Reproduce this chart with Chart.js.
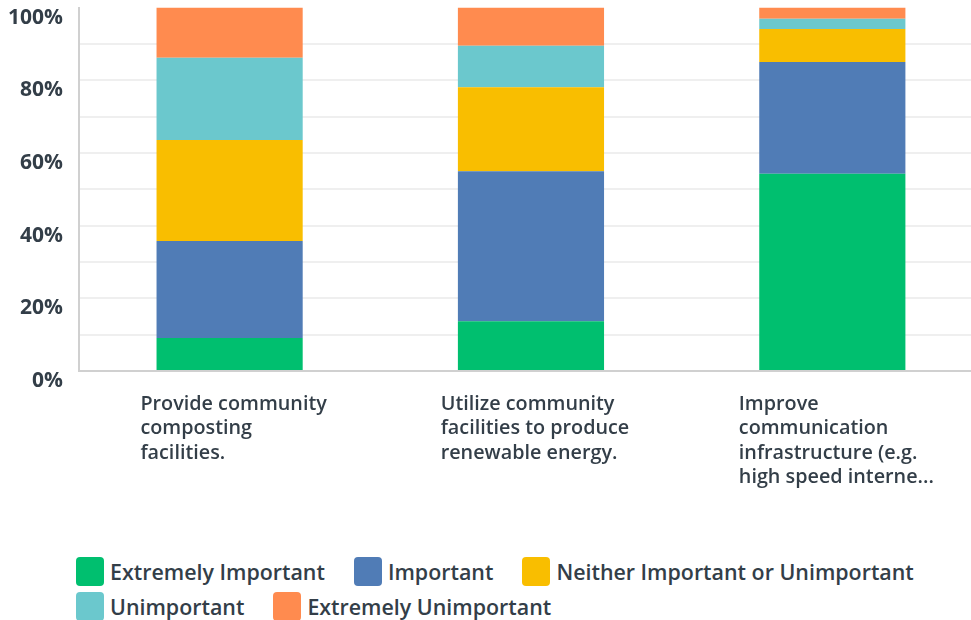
<!DOCTYPE html>
<html>
<head>
<meta charset="utf-8">
<script src="https://cdn.jsdelivr.net/npm/chart.js@4"></script>
<style>
  body { margin: 0; overflow: hidden; background: #fff; width: 971px; height: 620px; position: relative; }
  #wrap { position: absolute; left: -18px; top: -21px; width: 1007px; height: 531px; }
  #legend { position: absolute; left: 76px; top: 557px; width: 880px; display: flex; flex-wrap: wrap; row-gap: 6px;
            font-family: 'Open Sans', sans-serif; font-weight: 600; font-size: 21.4px; color: #333e48; }
  .item { display: flex; align-items: center; margin-right: 29px; height: 29px; }
  .box { width: 28px; height: 29px; border-radius: 4px; margin-right: 6px; }
</style>
</head>
<body>
<div id="wrap"><canvas id="myChart"></canvas></div>
<div id="legend"></div>
<script>
const categories = [
    ['Provide community', 'composting', 'facilities.'],
    ['Utilize community', 'facilities to produce', 'renewable energy.'],
    ['Improve', 'communication', 'infrastructure (e.g.', 'high speed interne...']
];
const seriesNames = ['Extremely Important', 'Important', 'Neither Important or Unimportant', 'Unimportant', 'Extremely Unimportant'];
const seriesColors = ['#00bf6f', '#507cb6', '#f9be00', '#6bc8cd', '#ff8b4f'];
const extremelyImportant = [9.1, 13.7, 54.3];
const important = [26.7, 41.3, 30.7];
const neither = [27.8, 23.1, 9.1];
const unimportant = [22.6, 11.4, 2.8];
const extremelyUnimportant = [13.8, 10.5, 3.1];
const yTickLabels = ['0%', '20%', '40%', '60%', '80%', '100%'];

const seriesValues = [extremelyImportant, important, neither, unimportant, extremelyUnimportant];
const textColor = '#333e48';

// multi-line category labels, left aligned inside a block centred on the bar
const leftLabels = {
    id: 'leftLabels',
    afterDraw(chart) {
        const { ctx, chartArea } = chart;
        const xScale = chart.scales.x;
        ctx.save();
        ctx.font = '600 19.8px "Open Sans"';
        ctx.fillStyle = textColor;
        ctx.textAlign = 'left';
        ctx.textBaseline = 'middle';
        chart.data.labels.forEach((lines, i) => {
            const cx = xScale.getPixelForValue(i);
            const w = Math.max(...lines.map(l => ctx.measureText(l).width));
            const x0 = cx - w / 2 + 4;
            lines.forEach((line, j) => {
                ctx.fillText(line, x0, chartArea.bottom + 33 + j * 24.6);
            });
        });
        ctx.restore();
    }
};

const canvas = document.getElementById('myChart');
new Chart(canvas, {
    type: 'bar',
    data: {
        labels: categories,
        datasets: seriesNames.map((name, i) => ({
            label: name,
            data: seriesValues[i],
            backgroundColor: seriesColors[i],
            borderWidth: 0,
            barPercentage: 0.485,
            categoryPercentage: 1
        }))
    },
    options: {
        responsive: true,
        maintainAspectRatio: false,
        animation: false,
        layout: { padding: { left: 10, right: 6, top: 0, bottom: 131 } },
        plugins: {
            legend: { display: false },
            tooltip: { enabled: false }
        },
        scales: {
            x: {
                stacked: true,
                ticks: { display: false },
                grid: { display: false },
                border: { color: '#d0d0d0', width: 2 }
            },
            y: {
                stacked: true,
                min: 0,
                max: 100,
                ticks: {
                    stepSize: 10,
                    padding: 16,
                    labelOffset: 10,
                    color: textColor,
                    font: { family: 'Open Sans', weight: 'bold', size: 21 },
                    callback: (v) => (v % 20 === 0 ? yTickLabels[v / 20] : '')
                },
                grid: {
                    drawTicks: false,
                    lineWidth: 2,
                    color: (c) => (c.tick && c.tick.value === 100 ? 'rgba(0,0,0,0)' : '#efefef')
                },
                border: { color: '#d0d0d0', width: 2 }
            }
        }
    },
    plugins: [leftLabels]
});

const legend = document.getElementById('legend');
seriesNames.forEach((name, i) => {
    const item = document.createElement('div');
    item.className = 'item';
    const box = document.createElement('span');
    box.className = 'box';
    box.style.background = seriesColors[i];
    const txt = document.createElement('span');
    txt.textContent = name;
    item.appendChild(box);
    item.appendChild(txt);
    legend.appendChild(item);
});
</script>
</body>
</html>
